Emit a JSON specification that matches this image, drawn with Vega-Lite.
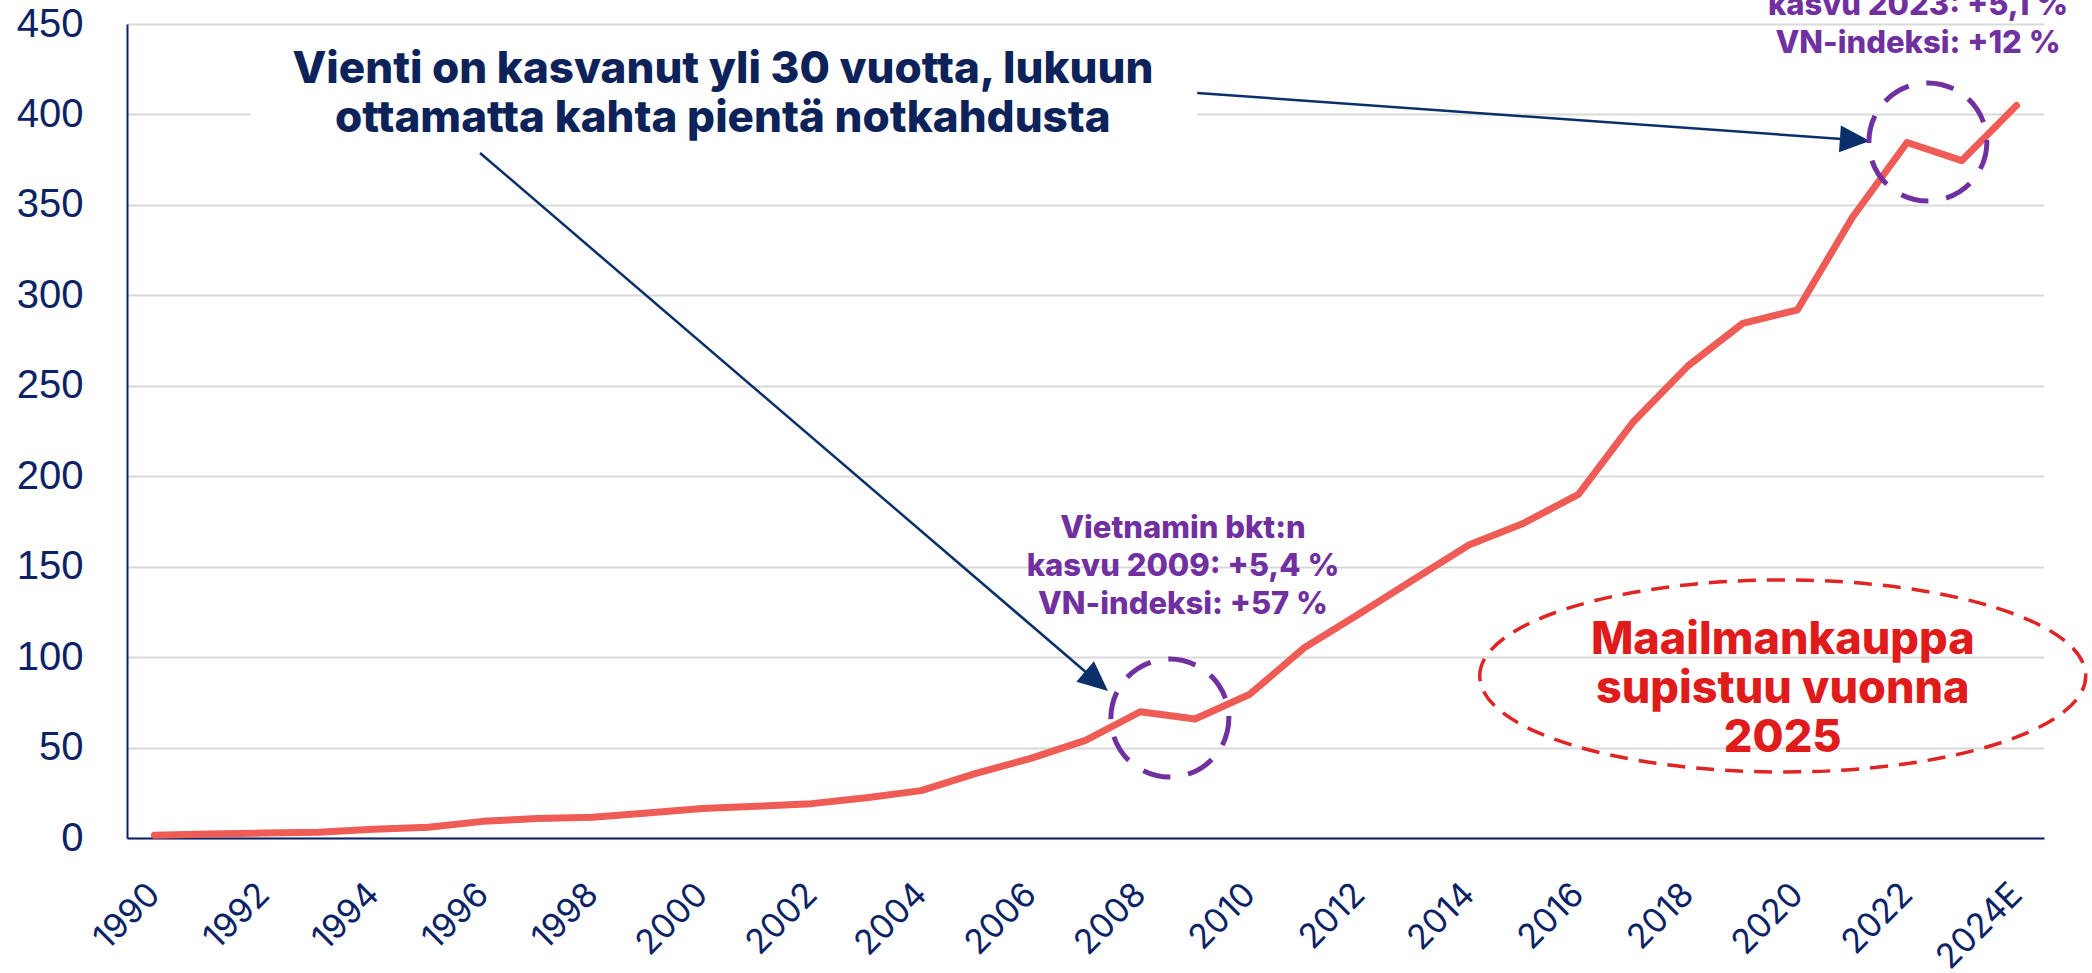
{
  "$schema": "https://vega.github.io/schema/vega-lite/v6.json",
  "width": 1917,
  "height": 814,
  "autosize": {"type": "none"},
  "padding": {"left": 127, "top": 24, "right": 48, "bottom": 135},
  "background": "white",
  "config": {"view": {"stroke": null}},
  "encoding": {
    "x": {
      "field": "year",
      "type": "quantitative",
      "scale": {"domain": [1989.5, 2024.5], "nice": false, "zero": false},
      "axis": {
        "title": null,
        "values": [1990, 1992, 1994, 1996, 1998, 2000, 2002, 2004, 2006, 2008, 2010, 2012, 2014, 2016, 2018, 2020, 2022, 2024],
        "labelExpr": "datum.value == 2024 ? '2024E' : '' + datum.value",
        "grid": false,
        "ticks": false,
        "tickSize": 0,
        "domainColor": "#0b2265",
        "domainWidth": 2,
        "labelAngle": -45,
        "labelAlign": "right",
        "labelBaseline": "middle",
        "labelPadding": 51,
        "labelFont": "Inter",
        "labelFontSize": 34,
        "labelColor": "#0b2265",
        "labelOverlap": false,
        "labelFlush": false
      }
    },
    "y": {
      "field": "value",
      "type": "quantitative",
      "scale": {"domain": [0, 450], "nice": false},
      "axis": {
        "title": null,
        "values": [0, 50, 100, 150, 200, 250, 300, 350, 400, 450],
        "grid": true,
        "gridColor": "#d9d9d9",
        "gridWidth": 2,
        "ticks": false,
        "tickSize": 0,
        "domainColor": "#0b2265",
        "domainWidth": 2,
        "labelPadding": 44,
        "labelFont": "Liberation Sans",
        "labelFontSize": 40,
        "labelColor": "#0b2265",
        "labelOverlap": false
      }
    }
  },
  "layer": [
    {
      "data": {"values": [{"year": 1991.76, "year2": 2009.04, "value": 394, "value2": 406}]},
      "mark": {"type": "rect", "fill": "white"},
      "encoding": {"x2": {"field": "year2"}, "y2": {"field": "value2"}}
    },
    {
      "data": {"values": [
        {"year": 1990, "value": 1.5},
        {"year": 1991, "value": 2.2},
        {"year": 1992, "value": 2.7},
        {"year": 1993, "value": 3.2},
        {"year": 1994, "value": 4.8},
        {"year": 1995, "value": 6.0},
        {"year": 1996, "value": 9.2},
        {"year": 1997, "value": 10.8},
        {"year": 1998, "value": 11.5},
        {"year": 1999, "value": 13.8},
        {"year": 2000, "value": 16.3},
        {"year": 2001, "value": 17.5},
        {"year": 2002, "value": 19.0},
        {"year": 2003, "value": 22.3},
        {"year": 2004, "value": 26.2},
        {"year": 2005, "value": 35.7},
        {"year": 2006, "value": 44.0},
        {"year": 2007, "value": 54.0},
        {"year": 2008, "value": 69.8},
        {"year": 2009, "value": 65.8},
        {"year": 2010, "value": 79.5},
        {"year": 2011, "value": 105.3},
        {"year": 2012, "value": 124},
        {"year": 2013, "value": 143},
        {"year": 2014, "value": 162},
        {"year": 2015, "value": 174},
        {"year": 2016, "value": 190},
        {"year": 2017, "value": 230},
        {"year": 2018, "value": 261},
        {"year": 2019, "value": 284.5},
        {"year": 2020, "value": 292},
        {"year": 2021, "value": 343},
        {"year": 2022, "value": 384.5},
        {"year": 2023, "value": 374.5},
        {"year": 2024, "value": 405}
      ]},
      "mark": {"type": "line", "color": "#ef5b55", "strokeWidth": 7, "strokeCap": "round", "strokeJoin": "round"}
    },
    {
      "data": {"values": [
        {"year": 1995.945, "value": 378.7, "year2": 2007.27, "value2": 84.86},
        {"year": 2009.04, "value": 411.85, "year2": 2021.14, "value2": 385.7}
      ]},
      "mark": {"type": "rule", "color": "#0a2f6b", "strokeWidth": 2.5},
      "encoding": {"x2": {"field": "year2"}, "y2": {"field": "value2"}}
    },
    {
      "data": {"values": [{"year": 2007.41, "value": 81.27}]},
      "mark": {"type": "point", "shape": "M0,0L-1,-0.45L-1,0.45Z", "size": 3600, "angle": 40.6, "filled": true, "color": "#0a2f6b", "opacity": 1}
    },
    {
      "data": {"values": [{"year": 2021.32, "value": 385.3}]},
      "mark": {"type": "point", "shape": "M0,0L-1,-0.45L-1,0.45Z", "size": 3600, "angle": 4.1, "filled": true, "color": "#0a2f6b", "opacity": 1}
    },
    {
      "data": {"values": [{"year": 2008.54, "value": 66.3}, {"year": 2022.38, "value": 384.8}]},
      "mark": {"type": "point", "shape": "circle", "size": 13924, "filled": false, "stroke": "#7030a0", "strokeWidth": 5, "strokeDash": [28, 18], "opacity": 1}
    },
    {
      "data": {"values": [{"year": 2019.73, "value": 89.56}]},
      "mark": {"type": "point", "shape": "M-1,0A1,0.317,0,1,1,1,0A1,0.317,0,1,1,-1,0Z", "size": 367236, "filled": false, "stroke": "#e02424", "strokeWidth": 3.5, "strokeDash": [18, 11], "opacity": 1}
    },
    {
      "data": {"values": [{"year": 2000.38, "value": 417.4, "label": "Vienti on kasvanut yli 30 vuotta, lukuun\nottamatta kahta pientä notkahdusta"}]},
      "mark": {"type": "text", "font": "Inter", "fontSize": 44, "fontWeight": 800, "color": "#0d2259", "align": "center", "baseline": "alphabetic", "lineHeight": 49, "lineBreak": "\n"},
      "encoding": {"text": {"field": "label"}}
    },
    {
      "data": {"values": [
        {"year": 2008.78, "value": 165.7, "label": "Vietnamin bkt:n\nkasvu 2009: +5,4 %\nVN-indeksi: +57 %"},
        {"year": 2022.2, "value": 476.1, "label": "Vietnamin bkt:n\nkasvu 2023: +5,1 %\nVN-indeksi: +12 %"}
      ]},
      "mark": {"type": "text", "font": "Inter", "fontSize": 31, "fontWeight": 800, "color": "#7030a0", "align": "center", "baseline": "alphabetic", "lineHeight": 38, "lineBreak": "\n"},
      "encoding": {"text": {"field": "label"}}
    },
    {
      "data": {"values": [{"year": 2019.73, "value": 101.9, "label": "Maailmankauppa\nsupistuu vuonna\n2025"}]},
      "mark": {"type": "text", "font": "Inter", "fontSize": 45, "fontWeight": 800, "color": "#e01b1b", "align": "center", "baseline": "alphabetic", "lineHeight": 49, "lineBreak": "\n"},
      "encoding": {"text": {"field": "label"}}
    }
  ]
}
